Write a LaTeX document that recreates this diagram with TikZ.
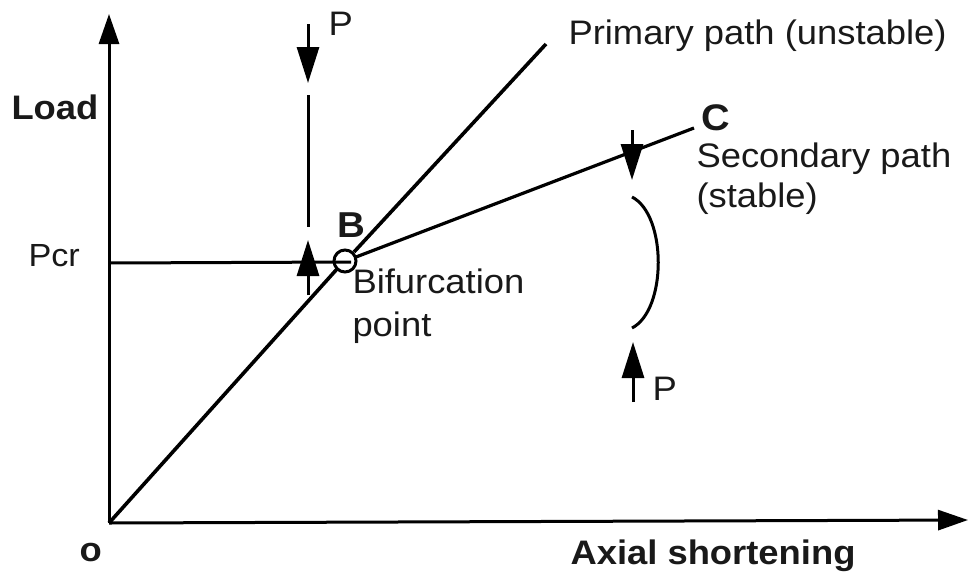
\documentclass[tikz,border=0pt]{standalone}
\usepackage{fontspec}
\setmainfont[FakeStretch=1.07]{Liberation Sans}
\usetikzlibrary{arrows.meta}
\tikzset{
	mytip/.style={-{Triangle[length=30pt, width=20pt]}},
	smalltip/.style={-{Triangle[length=36pt, width=22pt]}},
	mylabel/.style={anchor=base west, inner sep=0pt, font=\fontsize{34pt}{40pt}\selectfont, text=black!90},
	mybold/.style={mylabel, font=\fontsize{34pt}{40pt}\selectfont\bfseries}
}
\begin{document}
\begin{tikzpicture}[x=1pt, y=-1pt, line width=3pt]
	\useasboundingbox (0, 0) rectangle (968, 573);
	\coordinate (O) at (109, 523);
	\coordinate (Ytop) at (109, 14);
	\coordinate (Xend) at (968, 520);
	\coordinate (Bif) at (345, 261);
	\coordinate (Bin) at (337, 269);
	\coordinate (Bout) at (354, 252);
	\coordinate (Bsec) at (356, 257);
	\coordinate (Bmid) at (351, 262);
	\coordinate (Pend) at (546, 44);
	\coordinate (Cend) at (694, 128);
	\coordinate (Pcr) at (109, 263);
	% axes
	\draw[mytip] (O) -- (Ytop);
	\draw[mytip] (O) -- (Xend);
	% paths
	\draw[line width=3.6pt] (O) -- (Bin);
	\draw[line width=3.6pt] (Bout) -- (Pend);
	\draw[line width=3.2pt] (Bsec) -- (Cend);
	\draw (Pcr) -- (Bmid);
	\draw (Bif) circle (11);
	% load on the straight column
	\coordinate (T1) at (308, 24);
	\coordinate (T2) at (308, 83);
	\coordinate (T3) at (308, 95);
	\coordinate (T4) at (308, 227);
	\coordinate (T5) at (308, 295);
	\coordinate (T6) at (308, 240);
	\draw[smalltip] (T1) -- (T2);
	\draw (T3) -- (T4);
	\draw[smalltip] (T5) -- (T6);
	% load on the buckled column
	\coordinate (U1) at (632, 130);
	\coordinate (U2) at (632, 180);
	\coordinate (U3) at (632, 197);
	\coordinate (U4) at (632, 328);
	\coordinate (U5) at (633, 402);
	\coordinate (U6) at (633, 342);
	\draw[smalltip] (U1) -- (U2);
	\draw (U3) .. controls (667, 215) and (667, 310) .. (U4);
	\draw[smalltip] (U5) -- (U6);
	% labels
	\node[mybold] (load) at (10, 119) {Load};
	\node[mylabel, font=\fontsize{32pt}{40pt}\selectfont] (pcr) at (27, 266) {Pcr};
	\node[mybold] (o) at (78, 561) {o};
	\node[mybold] (axial) at (569, 564) {Axial shortening};
	\node[mylabel] (p1) at (327, 35) {P};
	\node[mylabel] (prim) at (567, 44) {Primary path (unstable)};
	\node[mybold, font=\fontsize{37pt}{44pt}\selectfont\bfseries] (c) at (700, 130) {C};
	\node[mylabel] (sec) at (695, 167) {Secondary path};
	\node[mylabel] (stab) at (695, 207) {(stable)};
	\node[mybold, font=\fontsize{36pt}{44pt}\selectfont\bfseries] (b) at (336, 237) {B};
	\node[mylabel] (bif) at (351, 293) {Bifurcation};
	\node[mylabel] (pnt) at (351, 336) {point};
	\node[mylabel] (p2) at (651, 400) {P};
\end{tikzpicture}
\end{document}
